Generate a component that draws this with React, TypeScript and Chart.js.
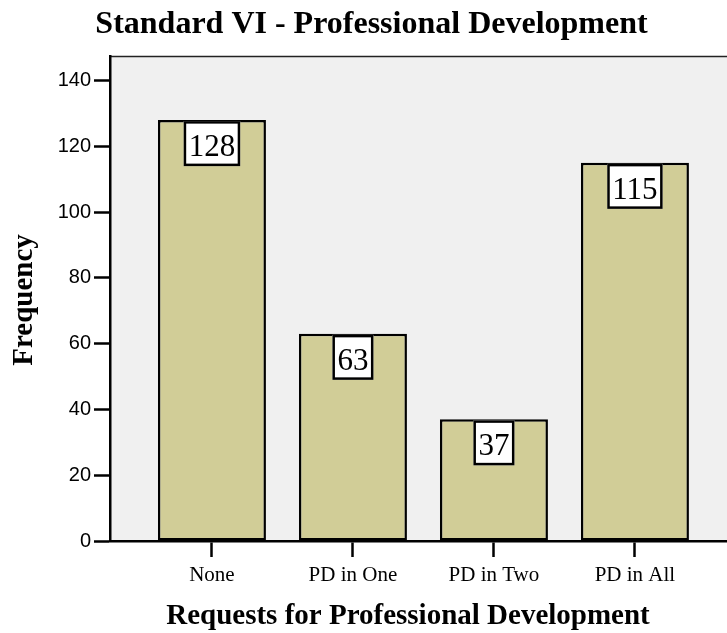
import React, { useEffect, useRef } from "react";
import { Chart, registerables } from "chart.js";

Chart.register(...registerables);

const categories = ["None", "PD in One", "PD in Two", "PD in All"];
const frequencies = [128, 63, 37, 115];
const yTicks = [0, 20, 40, 60, 80, 100, 120, 140];
const chartTitle = "Standard VI - Professional Development";
const xTitle = "Requests for Professional Development";
const yTitle = "Frequency";

const SERIF = '"Liberation Serif", "Times New Roman", serif';
const SANS = '"Liberation Sans", Arial, sans-serif';

export default function App() {
  const ref = useRef<HTMLCanvasElement | null>(null);

  useEffect(() => {
    if (!ref.current) return;

    const decor = {
      id: "decor",
      beforeDraw(chart: any) {
        const { ctx, chartArea } = chart;
        ctx.save();
        ctx.fillStyle = "#f0f0f0";
        ctx.fillRect(chartArea.left, chartArea.top, chart.width - chartArea.left, chartArea.bottom - chartArea.top);
        ctx.strokeStyle = "#222";
        ctx.lineWidth = 1.5;
        ctx.beginPath();
        ctx.moveTo(chartArea.left, chartArea.top + 0.5);
        ctx.lineTo(chart.width, chartArea.top + 0.5);
        ctx.stroke();
        ctx.restore();
      },
      afterDatasetsDraw(chart: any) {
        const { ctx } = chart;
        const meta = chart.getDatasetMeta(0);
        ctx.save();
        ctx.font = `31px ${SERIF}`;
        ctx.textAlign = "center";
        ctx.textBaseline = "alphabetic";
        meta.data.forEach((bar: any, i: number) => {
          const txt = String(frequencies[i]);
          const w = ctx.measureText(txt).width + 10;
          const h = 45;
          const top = bar.y + 1;
          ctx.fillStyle = "#ffffff";
          ctx.fillRect(bar.x - w / 2, top, w, h);
          ctx.strokeStyle = "#000";
          ctx.lineWidth = 2.5;
          ctx.strokeRect(bar.x - w / 2 + 1.25, top + 1.25, w - 2.5, h - 2.5);
          ctx.fillStyle = "#000";
          ctx.fillText(txt, bar.x, top + 35);
        });
        ctx.restore();
      },
      afterDraw(chart: any) {
        const { ctx } = chart;
        ctx.save();
        ctx.fillStyle = "#000";
        ctx.textAlign = "center";
        ctx.textBaseline = "alphabetic";
        ctx.font = `bold 32px ${SERIF}`;
        ctx.fillText(chartTitle, 371.5, 33);
        ctx.font = `bold 29px ${SERIF}`;
        ctx.fillText(xTitle, 408, 624);
        ctx.translate(32, 300);
        ctx.rotate(-Math.PI / 2);
        ctx.fillText(yTitle, 0, 0);
        ctx.restore();
      },
    };

    const chart = new Chart(ref.current, {
      type: "bar",
      data: {
        datasets: [
          {
            data: categories.map((c, i) => ({ x: i, y: frequencies[i] })),
            backgroundColor: "#d1cd97",
            borderColor: "#000",
            borderWidth: 2.5,
            borderSkipped: false,
            categoryPercentage: 1,
            barPercentage: 0.766,
          },
        ],
      },
      options: {
        responsive: false,
        animation: false,
        layout: { padding: { top: 56, left: 0, right: 0, bottom: 0 } },
        plugins: {
          legend: { display: false },
          tooltip: { enabled: false },
          title: { display: false },
        },
        scales: {
          x: {
            type: "linear",
            offset: false,
            min: -0.723,
            max: 3.653,
            afterFit(scale: any) {
              scale.height = 92;
            },
            afterBuildTicks(scale: any) {
              scale.ticks = categories.map((c, i) => ({ value: i }));
            },
            ticks: {
              autoSkip: false,
              maxRotation: 0,
              padding: 6,
              color: "#000",
              font: { family: SERIF, size: 21 },
              callback: (v: any) => categories[Number(v)] ?? "",
            },
            grid: {
              offset: false,
              drawOnChartArea: false,
              drawTicks: true,
              tickLength: 16,
              tickWidth: 2.5,
              tickColor: "#000",
            },
            border: { display: true, color: "#000", width: 2.5 },
          },
          y: {
            min: 0,
            max: 147.5,
            afterFit(scale: any) {
              scale.width = 110;
            },
            afterBuildTicks(scale: any) {
              scale.ticks = yTicks.map((v) => ({ value: v }));
            },
            ticks: {
              padding: 3,
              color: "#000",
              font: { family: SANS, size: 20 },
            },
            grid: {
              drawOnChartArea: false,
              drawTicks: true,
              tickLength: 16,
              tickWidth: 2.5,
              tickColor: "#000",
            },
            border: { display: true, color: "#000", width: 2.5 },
          },
        },
      },
      plugins: [decor],
    });

    return () => chart.destroy();
  }, []);

  return (
    <div style={{ position: "absolute", left: 0, top: 0, width: 727, height: 633, background: "#fff" }}>
      <canvas ref={ref} width={727} height={633} style={{ display: "block" }} />
    </div>
  );
}
